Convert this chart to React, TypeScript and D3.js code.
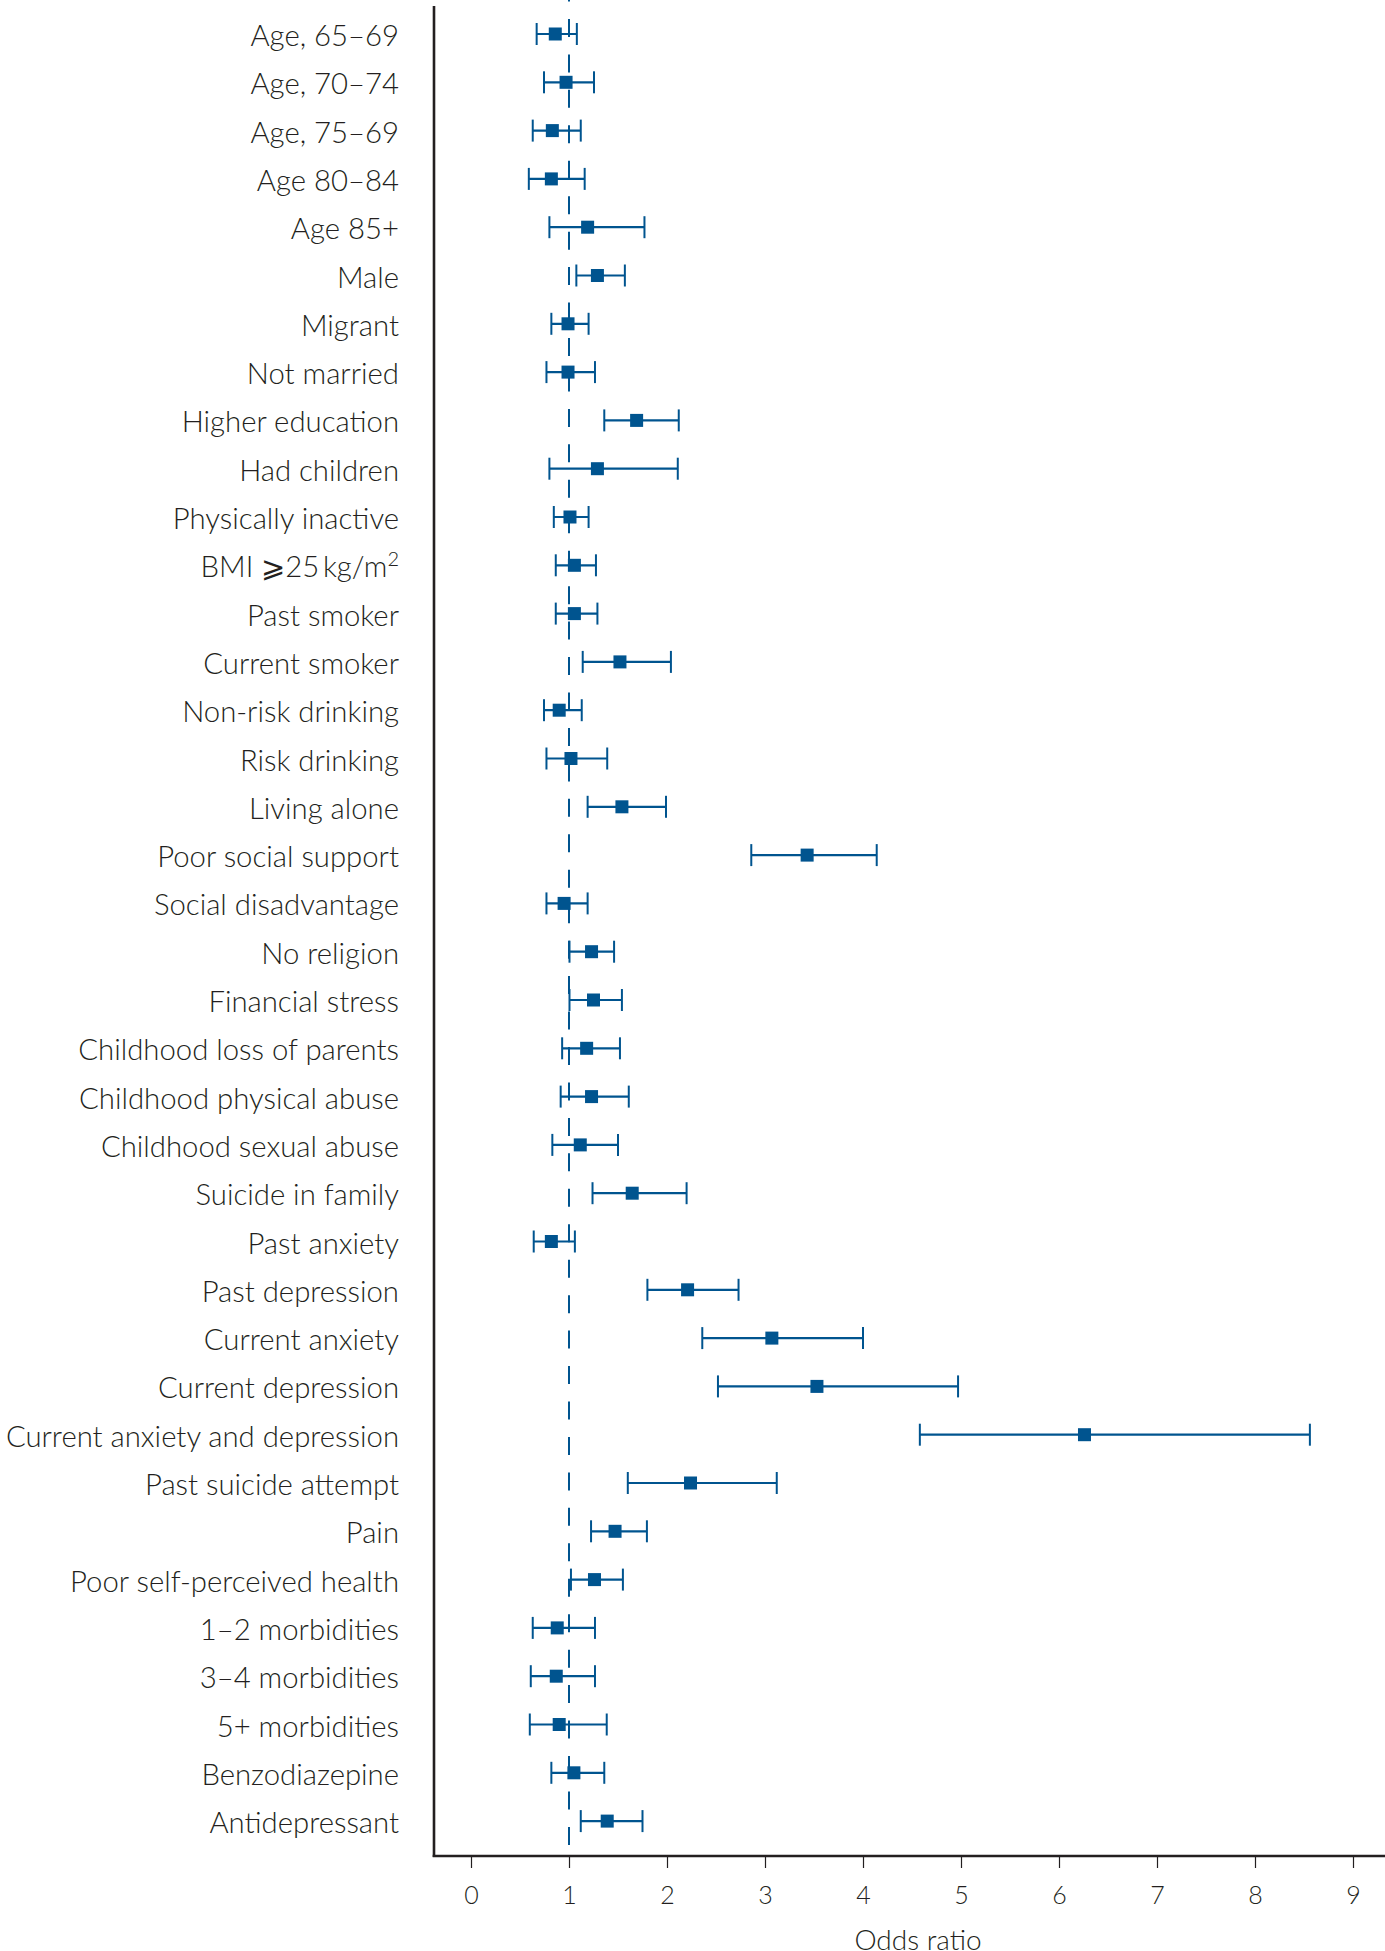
import { useRef, useEffect } from 'react';
import * as d3 from 'd3';

const labels = [
  'Age, 65–69', 'Age, 70–74', 'Age, 75–69', 'Age 80–84', 'Age 85+', 'Male', 'Migrant', 'Not married',
  'Higher education', 'Had children', 'Physically inactive', 'BMI', 'Past smoker', 'Current smoker',
  'Non-risk drinking', 'Risk drinking', 'Living alone', 'Poor social support', 'Social disadvantage',
  'No religion', 'Financial stress', 'Childhood loss of parents', 'Childhood physical abuse',
  'Childhood sexual abuse', 'Suicide in family', 'Past anxiety', 'Past depression', 'Current anxiety',
  'Current depression', 'Current anxiety and depression', 'Past suicide attempt', 'Pain',
  'Poor self-perceived health', '1–2 morbidities', '3–4 morbidities', '5+ morbidities',
  'Benzodiazepine', 'Antidepressant',
];
const oddsRatio = [
  0.86, 0.97, 0.83, 0.82, 1.19, 1.29, 0.99, 0.99, 1.69, 1.29, 1.01, 1.055, 1.055, 1.52, 0.9, 1.02, 1.54,
  3.43, 0.95, 1.23, 1.25, 1.18, 1.23, 1.115, 1.645, 0.82, 2.21, 3.07, 3.53, 6.26, 2.24, 1.47, 1.26, 0.88,
  0.87, 0.9, 1.05, 1.39,
];
const ciLow = [
  0.67, 0.745, 0.63, 0.59, 0.8, 1.075, 0.82, 0.77, 1.36, 0.8, 0.845, 0.865, 0.865, 1.14, 0.745, 0.77, 1.19,
  2.86, 0.77, 1.005, 1.005, 0.93, 0.915, 0.83, 1.24, 0.64, 1.8, 2.36, 2.52, 4.58, 1.6, 1.225, 1.02, 0.63,
  0.61, 0.6, 0.82, 1.12,
];
const ciHigh = [
  1.08, 1.255, 1.12, 1.16, 1.77, 1.57, 1.2, 1.265, 2.12, 2.11, 1.2, 1.275, 1.29, 2.04, 1.13, 1.39, 1.99,
  4.14, 1.19, 1.46, 1.54, 1.52, 1.61, 1.5, 2.2, 1.06, 2.73, 4.0, 4.97, 8.56, 3.12, 1.795, 1.55, 1.265,
  1.265, 1.385, 1.36, 1.75,
];
const xTicks = [0, 1, 2, 3, 4, 5, 6, 7, 8, 9];

const W = 1385, H = 1951;
const BLUE = '#00548f';
const INK = '#231f20';
const FONT = 'Lato, "Open Sans", sans-serif';

export default function App() {
  const svgRef = useRef<SVGSVGElement>(null);

  useEffect(() => {
    if (!svgRef.current) return;
    const svg = d3.select(svgRef.current);
    svg.selectAll('*').remove();

    const axisY = 1856, axisX = 434;
    const x = d3.scaleLinear().domain([0, 9]).range([471, 1353]);
    const y = d3.scalePoint<string>().domain(labels).range([34, 34 + 37 * 48.3]);
    const rows = labels.map((l, i) => ({ label: l, or: oddsRatio[i], lo: ciLow[i], hi: ciHigh[i] }));

    // reference line at OR = 1
    svg.append('line')
      .attr('x1', x(1)).attr('x2', x(1)).attr('y1', -16.5).attr('y2', axisY - 4)
      .attr('stroke', BLUE).attr('stroke-width', 2).attr('stroke-dasharray', '18 17.45');

    const g = svg.append('g').selectAll('g').data(rows).enter().append('g')
      .attr('transform', d => `translate(0,${y(d.label)})`);
    g.append('line').attr('x1', d => x(d.lo)).attr('x2', d => x(d.hi))
      .attr('stroke', BLUE).attr('stroke-width', 2.2);
    g.append('line').attr('x1', d => x(d.lo)).attr('x2', d => x(d.lo)).attr('y1', -11).attr('y2', 11)
      .attr('stroke', BLUE).attr('stroke-width', 2);
    g.append('line').attr('x1', d => x(d.hi)).attr('x2', d => x(d.hi)).attr('y1', -11).attr('y2', 11)
      .attr('stroke', BLUE).attr('stroke-width', 2);
    g.append('rect').attr('x', d => x(d.or) - 6.5).attr('y', -6.5).attr('width', 13).attr('height', 13)
      .attr('fill', BLUE);

    // row labels
    const t = svg.append('g').selectAll('text').data(rows).enter().append('text')
      .attr('x', 399).attr('y', d => y(d.label)! + 12)
      .attr('text-anchor', 'end').attr('font-family', FONT).attr('font-weight', 300)
      .attr('font-size', 29.3).attr('fill', INK);
    t.each(function (d) {
      const el = d3.select(this);
      if (d.label !== 'BMI') { el.text(d.label); return; }
      el.append('tspan').text('BMI  ⩾25\u2009kg/m');
      el.append('tspan').attr('dy', -11).attr('font-size', 20).text('2');
    });

    // axes
    svg.append('line').attr('x1', axisX).attr('x2', axisX).attr('y1', 6).attr('y2', axisY + 1)
      .attr('stroke', INK).attr('stroke-width', 2.6);
    const ax = svg.append('g').attr('transform', `translate(0,${axisY})`)
      .call(d3.axisBottom(x).tickValues(xTicks).tickSize(12).tickPadding(18).tickFormat(d3.format('d')));
    ax.select('.domain').remove();
    ax.selectAll('line').attr('stroke', INK).attr('stroke-width', 1.2);
    ax.selectAll('text').attr('font-family', FONT).attr('font-weight', 300).attr('font-size', 25).attr('fill', INK);
    svg.append('line').attr('x1', axisX - 1.3).attr('x2', W).attr('y1', axisY).attr('y2', axisY)
      .attr('stroke', INK).attr('stroke-width', 2.6);
    svg.append('text').attr('x', 918).attr('y', 1950).attr('text-anchor', 'middle')
      .attr('font-family', FONT).attr('font-weight', 300).attr('font-size', 28).attr('fill', INK).text('Odds ratio');
  }, []);

  return (
    <div style={{ position: 'absolute', left: 0, top: 0, background: '#fff' }}>
      <svg ref={svgRef} width={W} height={H} viewBox={`0 0 ${W} ${H}`} style={{ display: 'block' }} />
    </div>
  );
}
